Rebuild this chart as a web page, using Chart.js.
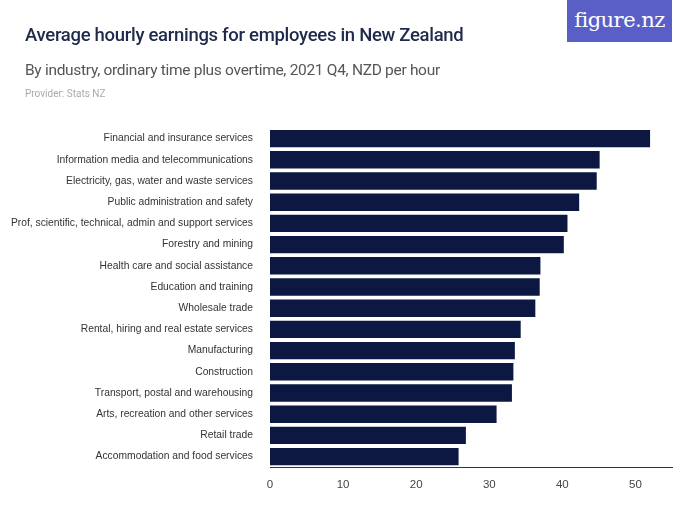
<!DOCTYPE html>
<html><head><meta charset="utf-8">
<script src="https://cdn.jsdelivr.net/npm/chart.js@4"></script>
<style>
body{margin:0;background:#fff;font-family:Roboto,"Liberation Sans",sans-serif;}
#wrap{position:relative;width:700px;height:525px;}
canvas{position:absolute;left:0;top:0;}
.t{position:absolute;white-space:nowrap;}
</style></head><body>
<div id="wrap">
<canvas id="c" width="700" height="525"></canvas>
<div class="t" style="left:25px;top:24px;font-size:18.5px;color:#1e2a4a;letter-spacing:-0.3px;font-weight:500;">Average hourly earnings for employees in New Zealand</div>
<div class="t" style="left:25px;top:61px;font-size:15.5px;color:#555;letter-spacing:-0.3px;">By industry, ordinary time plus overtime, 2021 Q4, NZD per hour</div>
<div class="t" style="left:25px;top:88px;font-size:10px;color:#aaa;">Provider: Stats NZ</div>
<div class="t" style="left:567px;top:0;width:105px;height:42px;background:#5a5fc8;color:#fff;font-size:21px;line-height:40px;text-align:center;font-family:'DejaVu Serif',serif;letter-spacing:-0.5px;">figure.nz</div>
</div>
<script>
const categories=["Financial and insurance services","Information media and telecommunications","Electricity, gas, water and waste services","Public administration and safety","Prof, scientific, technical, admin and support services","Forestry and mining","Health care and social assistance","Education and training","Wholesale trade","Rental, hiring and real estate services","Manufacturing","Construction","Transport, postal and warehousing","Arts, recreation and other services","Retail trade","Accommodation and food services"];
const values=[52.0,45.1,44.7,42.3,40.7,40.2,37.0,36.9,36.3,34.3,33.5,33.3,33.1,31.0,26.8,25.8];
const tickValues=[0,10,20,30,40,50];
new Chart(document.getElementById('c'),{type:'bar',
data:{labels:categories,datasets:[{data:values,backgroundColor:'#0c1841',categoryPercentage:0.82,barPercentage:1}]},
options:{indexAxis:'y',responsive:false,animation:false,
layout:{padding:{top:128,right:28,bottom:30,left:0}},
plugins:{legend:{display:false},tooltip:{enabled:false}},
scales:{
x:{min:0,max:55,ticks:{stepSize:10,color:'#444',font:{size:11.5},callback:v=>tickValues.includes(v)?v:''},grid:{display:false},border:{color:'#333'}},
y:{afterFit:s=>{s.width=270;},ticks:{color:'#333',font:{size:10.3},padding:9,autoSkip:false},grid:{display:false},border:{display:false}}
}}});
</script></body></html>
